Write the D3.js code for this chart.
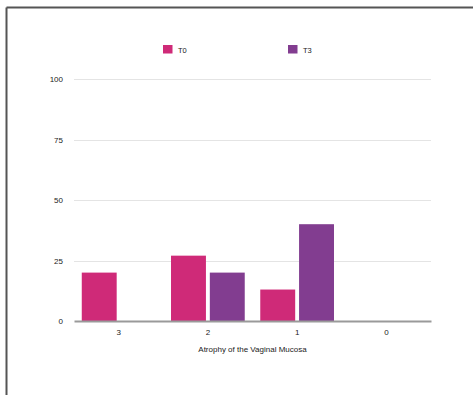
<!DOCTYPE html>
<html>
<head>
<meta charset="utf-8">
<script src="https://cdn.jsdelivr.net/npm/d3@7"></script>
<style>
  html, body { margin: 0; padding: 0; background: #fff; }
  svg { display: block; }
  text { font-family: "Liberation Sans", Arial, sans-serif; fill: #222; }
</style>
</head>
<body>
<svg id="chart" width="473" height="395"></svg>
<script>
// Atrophy grade categories and the share of patients at each time point
const categories = ["3", "2", "1", "0"];
const seriesNames = ["T0", "T3"];
const valuesT0 = [20, 27, 13, 0];
const valuesT3 = [0, 20, 40, 0];
const yTicks = [0, 25, 50, 75, 100];
const colors = ["#cf2a78", "#823d90"];

const svg = d3.select("#chart");

// frame lines along the top and left edge
svg.append("line").attr("x1", 6.5).attr("x2", 473).attr("y1", 7.5).attr("y2", 7.5)
  .attr("stroke", "#555").attr("stroke-width", 2);
svg.append("line").attr("x1", 6.5).attr("x2", 6.5).attr("y1", 7.5).attr("y2", 395)
  .attr("stroke", "#555").attr("stroke-width", 2);

const plot = { left: 74, right: 431, top: 79, bottom: 321 };

const x = d3.scaleBand().domain(categories).range([plot.left, plot.right]).paddingInner(0).paddingOuter(0);
const x1 = d3.scaleBand().domain(seriesNames).range([0, x.bandwidth()]).paddingInner(0.1).paddingOuter(0.2);
const y = d3.scaleLinear().domain([0, 100]).range([plot.bottom, plot.top]);

// horizontal gridlines
svg.append("g").selectAll("line").data(yTicks.filter(t => t > 0)).join("line")
  .attr("x1", plot.left).attr("x2", plot.right)
  .attr("y1", d => Math.round(y(d)) + 0.5).attr("y2", d => Math.round(y(d)) + 0.5)
  .attr("stroke", "#e4e4e4").attr("stroke-width", 1);

// y axis labels
const yAxis = d3.axisLeft(y).tickValues(yTicks).tickSize(0).tickPadding(11);
const gy = svg.append("g").attr("transform", `translate(${plot.left},0)`).call(yAxis);
gy.select(".domain").remove();
gy.selectAll("text").style("font-size", "8px").attr("fill", "#222");

// bars
const data = categories.map((c, i) => ({ cat: c, vals: [valuesT0[i], valuesT3[i]] }));
svg.append("g").selectAll("g").data(data).join("g")
  .attr("transform", d => `translate(${x(d.cat)},0)`)
  .selectAll("rect").data(d => d.vals.map((v, j) => ({ name: seriesNames[j], v, j })).filter(e => e.v > 0))
  .join("rect")
  .attr("x", e => x1(e.name))
  .attr("width", x1.bandwidth())
  .attr("y", e => y(e.v))
  .attr("height", e => y(0) - y(e.v))
  .attr("fill", e => colors[e.j]);

// x axis
const xAxis = d3.axisBottom(x).tickSize(0).tickPadding(8);
const gx = svg.append("g").attr("transform", `translate(0,${plot.bottom})`).call(xAxis);
gx.select(".domain").attr("stroke", "#9a9a9a").attr("stroke-width", 2);
gx.selectAll("text").style("font-size", "8px").attr("fill", "#222");

svg.append("text").attr("x", 252.5).attr("y", 352)
  .attr("text-anchor", "middle").style("font-size", "8px")
  .text("Atrophy of the Vaginal Mucosa");

// legend
const legendX = [163, 288];
const lg = svg.append("g").selectAll("g").data(seriesNames).join("g")
  .attr("transform", (d, i) => `translate(${legendX[i]},45)`);
lg.append("rect").attr("width", 9.5).attr("height", 8.5).attr("fill", (d, i) => colors[i]);
lg.append("text").attr("x", 15).attr("y", 7.5).style("font-size", "7.5px").text(d => d);
</script>
</body>
</html>
